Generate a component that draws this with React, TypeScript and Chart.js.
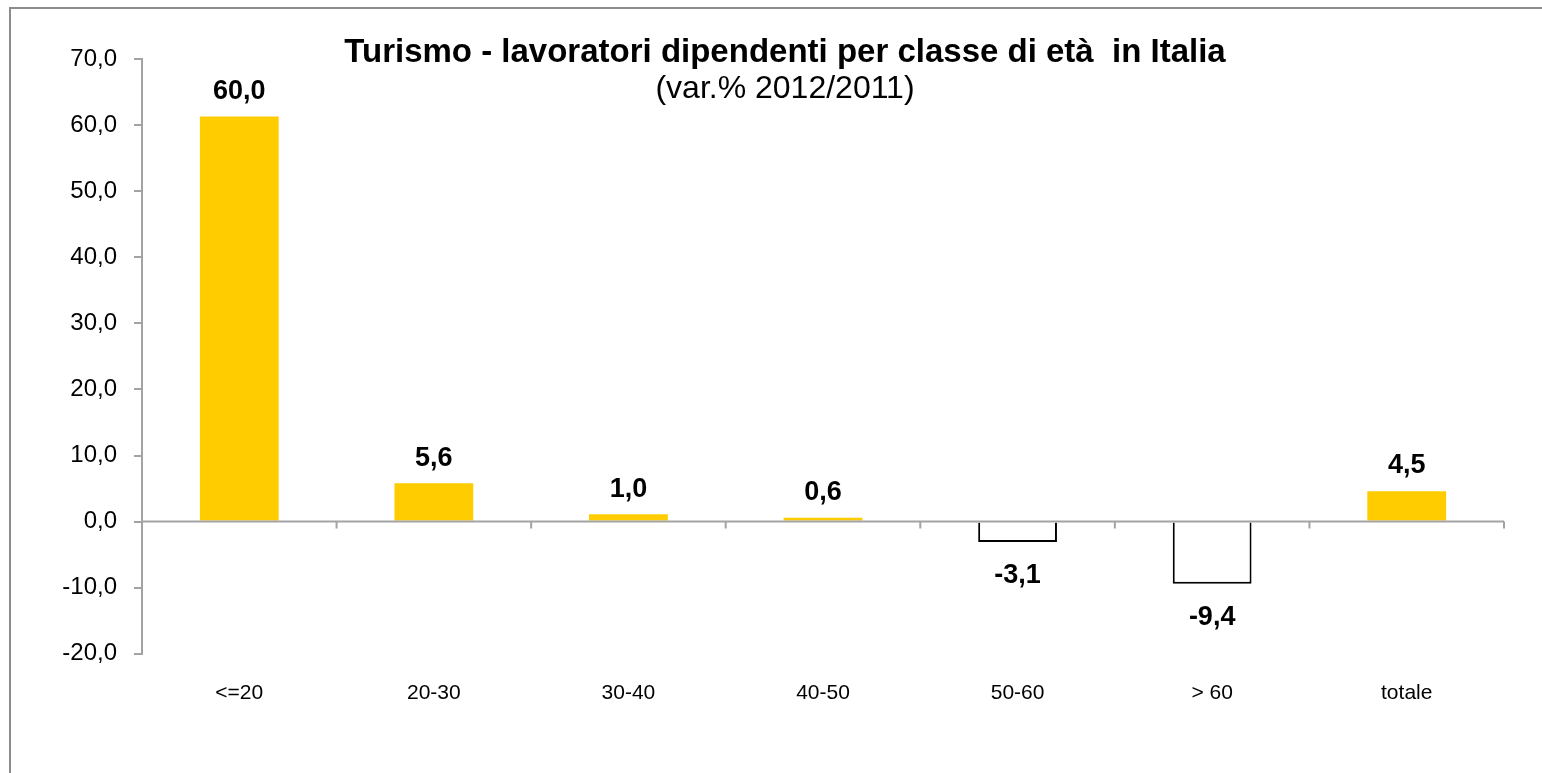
import React, { useEffect, useRef } from "react";
import { Chart, registerables } from "chart.js";

Chart.register(...registerables);

const categories = ["<=20", "20-30", "30-40", "40-50", "50-60", "> 60", "totale"];
const barValues = [61.3, 5.8, 1.1, 0.6, -3.1, -9.4, 4.6];
const valueLabels = ["60,0", "5,6", "1,0", "0,6", "-3,1", "-9,4", "4,5"];
const yMin = -20;
const yMax = 70;
const yStep = 10;
const titleText = "Turismo - lavoratori dipendenti per classe di età  in Italia";
const subtitleText = "(var.% 2012/2011)";

const FONT = "'Liberation Sans', Arial, sans-serif";
const PAD = { left: 30, right: 38, top: 59, bottom: 48 };
const Y_AXIS_WIDTH = 112;
const AXIS_GRAY = "#a3a3a3";

const titlePlugin = {
  id: "customTitle",
  afterDraw(chart: any) {
    const ctx = chart.ctx;
    const area = chart.chartArea;
    const cx = (area.left + area.right) / 2 - 38;
    ctx.save();
    ctx.fillStyle = "#000";
    ctx.textAlign = "center";
    ctx.textBaseline = "middle";
    ctx.font = `bold 33px ${FONT}`;
    ctx.fillText(titleText, cx, 52.5);
    ctx.font = `32px ${FONT}`;
    ctx.fillText(subtitleText, cx, 89.5);
    ctx.restore();
  },
};

const zeroLinePlugin = {
  id: "zeroLine",
  afterDatasetsDraw(chart: any) {
    const ctx = chart.ctx;
    const xs = chart.scales.x;
    const ys = chart.scales.y;
    const area = chart.chartArea;
    const y0 = ys.getPixelForValue(0);
    const half = (xs.getPixelForValue(1) - xs.getPixelForValue(0)) / 2;
    ctx.save();
    ctx.strokeStyle = AXIS_GRAY;
    ctx.lineWidth = 2;
    ctx.beginPath();
    ctx.moveTo(area.left, y0);
    ctx.lineTo(area.right, y0);
    for (let i = 0; i < categories.length; i++) {
      const bx = xs.getPixelForValue(i) + half;
      ctx.moveTo(bx, y0);
      ctx.lineTo(bx, y0 + 7);
    }
    ctx.stroke();
    ctx.restore();
  },
};

const dataLabelPlugin = {
  id: "dataLabels",
  afterDatasetsDraw(chart: any) {
    const ctx = chart.ctx;
    const meta = chart.getDatasetMeta(0);
    ctx.save();
    ctx.fillStyle = "#000";
    ctx.textAlign = "center";
    ctx.textBaseline = "middle";
    ctx.font = `bold 27px ${FONT}`;
    meta.data.forEach((bar: any, i: number) => {
      const v = barValues[i];
      const y = v >= 0 ? bar.y - 25.2 : bar.y + 33.8;
      ctx.fillText(valueLabels[i], bar.x, y);
    });
    ctx.restore();
  },
};

export default function App() {
  const canvasRef = useRef<HTMLCanvasElement | null>(null);

  useEffect(() => {
    if (!canvasRef.current) return;
    const chart = new Chart(canvasRef.current, {
      type: "bar",
      data: {
        labels: categories,
        datasets: [
          {
            data: barValues,
            backgroundColor: barValues.map((v) => (v >= 0 ? "#FFCC00" : "#FFFFFF")),
            borderColor: barValues.map((v) => (v >= 0 ? "#FFCC00" : "#000000")),
            borderWidth: barValues.map((v) => (v >= 0 ? 0 : 2)),
            barPercentage: 0.405,
            categoryPercentage: 1,
          },
        ],
      },
      options: {
        animation: false,
        responsive: true,
        maintainAspectRatio: false,
        layout: { padding: PAD },
        plugins: {
          legend: { display: false },
          tooltip: { enabled: false },
          title: { display: false },
        },
        scales: {
          x: {
            grid: { display: false },
            border: { display: false },
            ticks: {
              color: "#000",
              padding: 19,
              maxRotation: 0,
              autoSkip: false,
              font: { family: FONT, size: 21 },
            },
          },
          y: {
            min: yMin,
            max: yMax,
            afterFit: (scale: any) => {
              scale.width = Y_AXIS_WIDTH;
            },
            border: { display: true, color: AXIS_GRAY, width: 2 },
            grid: {
              drawOnChartArea: false,
              drawTicks: true,
              tickLength: 8,
              color: AXIS_GRAY,
              lineWidth: 2,
            },
            ticks: {
              stepSize: yStep,
              color: "#000",
              padding: 17,
              font: { family: FONT, size: 24 },
              callback: (v: any) => Number(v).toFixed(1).replace(".", ","),
            },
          },
        },
      },
      plugins: [zeroLinePlugin, dataLabelPlugin, titlePlugin],
    });
    return () => chart.destroy();
  }, []);

  return (
    <>
      <div
        style={{
          position: "fixed",
          left: 9,
          top: 7,
          width: 1700,
          height: 900,
          borderTop: "2px solid #8c8c8c",
          borderLeft: "2px solid #8c8c8c",
          pointerEvents: "none",
        }}
      />
      <div style={{ position: "fixed", left: 0, top: 0, width: 1542, height: 773 }}>
        <canvas ref={canvasRef} />
      </div>
    </>
  );
}
